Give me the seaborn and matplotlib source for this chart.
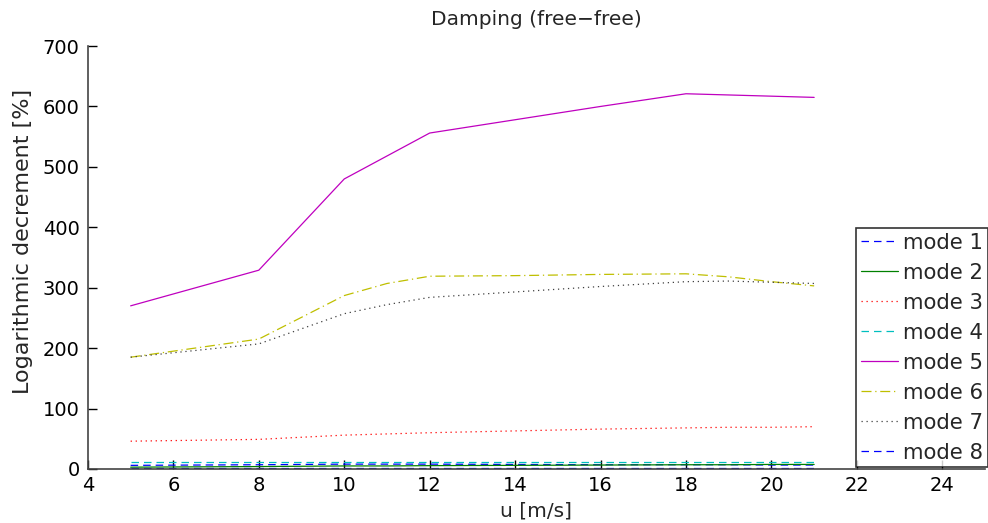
import matplotlib

matplotlib.use("Agg")
import matplotlib.pyplot as plt
import pandas as pd
import seaborn as sns

# wind speeds [m/s]
u = [5, 8, 10, 11, 12, 14, 16, 18, 19, 20, 21]

mode1 = [6, 7, 8, 8, 8, 7.5, 7, 7, 7, 6.5, 6.5]
mode2 = [3, 4, 5, 5, 5.5, 6, 6.5, 7, 7, 7.5, 7.5]
mode3 = [46, 49, 56, 58, 60, 63, 66, 68, 69, 69, 70]
mode4 = [11, 11, 11, 11, 11, 11, 11, 11, 11, 11, 11]
mode5 = [270, 329, 480, 518, 556, 578, 600, 621, 619, 617, 615]
mode6 = [185, 215, 287, 307, 319, 320, 322, 323, 318, 310, 303]
mode7 = [185, 207, 257, 272, 284, 293, 302, 310, 311, 309, 307]
mode8 = [1, 1, 1, 1, 1, 1, 1, 1, 1, 1, 1]

labels = ["mode 1", "mode 2", "mode 3", "mode 4", "mode 5", "mode 6", "mode 7", "mode 8"]
series = [mode1, mode2, mode3, mode4, mode5, mode6, mode7, mode8]

colors = ["#0000ff", "#008000", "#ff0000", "#00bfbf", "#bf00bf", "#bfbf00", "#404040", "#0000ff"]
styles = [(0, (6, 4)), "-", (0, (1, 3)), (0, (6, 4)), "-", (0, (8, 3, 1, 3)), (0, (1, 3)), (0, (6, 4))]

sns.set_style("white")
plt.rcParams["font.family"] = ["DejaVu Sans"]

fig = plt.figure(figsize=(9.88, 5.23), dpi=100)
ax = fig.add_axes([0.089, 0.1033, 0.908, 0.8087])

for lab, vals, c, ls in zip(labels, series, colors, styles):
    df = pd.DataFrame({"u": u, "val": vals})
    sns.lineplot(data=df, x="u", y="val", ax=ax, color=c, linestyle=ls, linewidth=0.9, label=lab)

ax.set_xlim(4, 25)
ax.set_ylim(0, 700)
ax.set_xticks(range(4, 25, 2))
ax.set_yticks(range(0, 701, 100))
ax.tick_params(direction="in", length=6.5, width=1, labelsize=14, colors="black",
               bottom=True, left=True)
ax.tick_params(axis="x", pad=5)
ax.tick_params(axis="y", pad=6)
for side in ["top", "right"]:
    ax.spines[side].set_visible(False)
for side in ["left", "bottom"]:
    ax.spines[side].set_color("#444444")
    ax.spines[side].set_linewidth(1.2)

ax.set_title("Damping (free\u2212free)", fontsize=14.5, pad=15)
ax.set_xlabel("u [m/s]", fontsize=14.5, labelpad=5)
ax.set_ylabel("Logarithmic decrement [%]", fontsize=16)
ax.yaxis.set_label_coords(-0.0613, 0.539)

leg = ax.legend(loc="lower right", bbox_to_anchor=(1.003, 0.004), fontsize=15.3, frameon=True,
                fancybox=False, handlelength=1.74, handletextpad=0.24, labelspacing=0.47,
                borderpad=0.22, borderaxespad=0)
leg.get_frame().set_edgecolor("black")
leg.get_frame().set_linewidth(1.2)

fig.savefig("out.png", dpi=100)
